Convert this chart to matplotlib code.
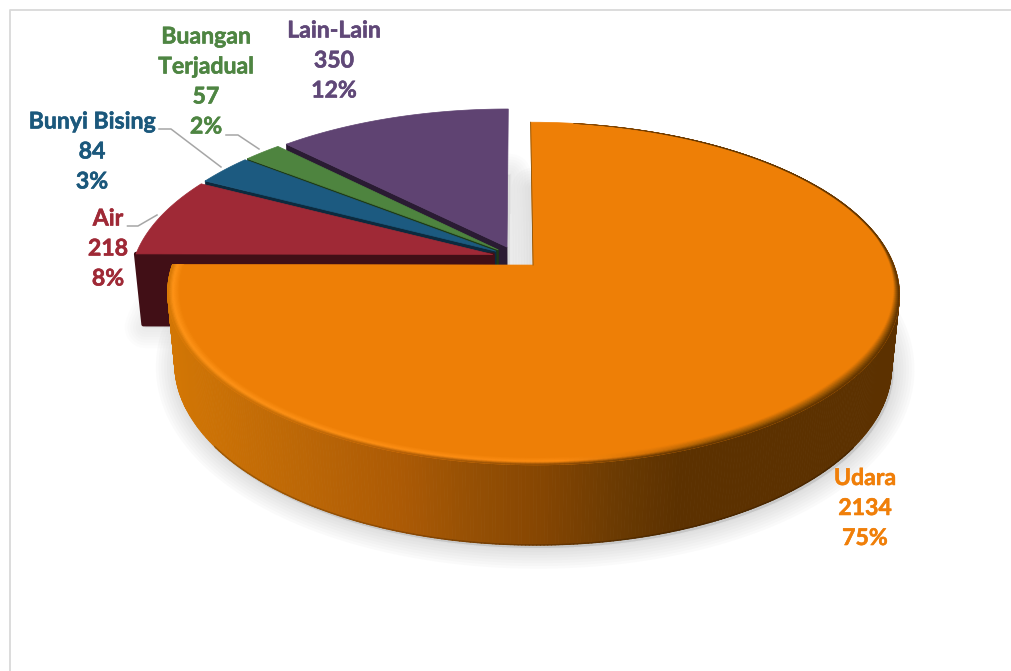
import numpy as np
import matplotlib
matplotlib.use("Agg")
import matplotlib.pyplot as plt
import matplotlib.patheffects as pe
from matplotlib.collections import PolyCollection
from matplotlib.colors import to_rgb
from matplotlib.patches import Polygon

categories = ["Udara", "Air", "Bunyi Bising", "Buangan\nTerjadual", "Lain-Lain"]
values = [2134, 218, 84, 57, 350]
face_colors = ["#EE7F06", "#9F2936", "#1C5A80", "#4E843F", "#5F4372"]
side_colors = ["#5C3100", "#410F16", "#0C2A3E", "#1E3A16", "#2A1B33"]
label_colors = ["#F07F09", "#9F2936", "#1B587C", "#4E8542", "#604878"]
label_pos = [(865, 508.5), (108, 249), (92, 152), (206, 82), (334, 61)]
leaders = [None,
           [(127.5, 226), (138, 226), (157, 215)],
           [(159, 129), (171, 129), (221, 167)],
           [(226, 135), (238, 135), (259, 149)],
           None]

# projection of the flat pie into the picture
XO, YO, AX, AY, KP, HZ, MZ, EXPLODE = 516, 257.2, 358, 164, 0.165, 72, 0.02, 0.067


def project(px, py, z=0.0):
    w = 1 + KP * py + MZ * z
    return XO + AX * px / w, YO + (-AY * py + HZ * z) / w


def point(theta, r, bis, z=0.0):
    t, b = np.radians(theta), np.radians(bis)
    px = EXPLODE * np.sin(b) + r * np.sin(t)
    py = EXPLODE * np.cos(b) + r * np.cos(t)
    return project(px, py, z)


def wedge(t0, t1, bis, z=0.0):
    th = np.linspace(t0, t1, 160)
    x, y = point(th, 1.0, bis, z)
    vx, vy = point(0.0, 0.0, bis, z)
    return np.column_stack([np.r_[vx, x], np.r_[vy, y]])


def ramp(x, xs, cols):
    c = np.array([to_rgb(k) for k in cols])
    return np.column_stack([np.interp(x, xs, c[:, i]) for i in range(3)])


RIM_X = [172, 300, 400, 470, 540, 620, 680]
RIM_C = ["#D27605", "#BC6706", "#AC5A05", "#965004", "#864602", "#6A3A02", "#5C3100"]

fig = plt.figure(figsize=(10.11, 6.71), dpi=100)
ax = fig.add_axes([0, 0, 1, 1])
ax.set_xlim(0, 1011)
ax.set_ylim(671, 0)
ax.axis("off")

ax.plot([9.5, 9.5, 1011], [671, 9.5, 9.5], color="#D9D9D9", lw=1.3, zorder=1)

angles = np.r_[0, np.cumsum(values)] / np.sum(values) * 360
bis = (angles[:-1] + angles[1:]) / 2

# soft shadow under every slice
for i in range(len(values)):
    poly = wedge(angles[i], angles[i + 1], bis[i], 1.0) + np.array([2, 3])
    for lw in np.arange(30, 1, -4):
        ax.add_patch(Polygon(poly, closed=True, facecolor="#8A8A8A", edgecolor="#8A8A8A",
                             lw=lw, alpha=0.035 if i == 0 else 0.018, joinstyle="round", zorder=2))

# small slices, back to front
for i in [4, 3, 2, 1]:
    t0 = angles[i]
    x0, y0 = point(0.0, 0.0, bis[i], 0.0)
    x1, y1 = point(t0, 1.0, bis[i], 0.0)
    x2, y2 = point(t0, 1.0, bis[i], 1.0)
    x3, y3 = point(0.0, 0.0, bis[i], 1.0)
    ax.add_patch(Polygon([(x0, y0), (x1, y1), (x2, y2), (x3, y3)], closed=True,
                         facecolor=side_colors[i], edgecolor=side_colors[i],
                         lw=3 if i == 1 else 0.5, joinstyle="round", zorder=3 + (4 - i)))
    ax.add_patch(Polygon(wedge(angles[i], angles[i + 1], bis[i]), closed=True,
                         facecolor=face_colors[i], edgecolor=face_colors[i], lw=0.5,
                         zorder=3.5 + (4 - i)))

# large slice: rim with a gradient, then the top and a bevel
th = np.linspace(angles[0] + 60, angles[1], 420)
xt, yt = point(th, 1.0, bis[0], 0.0)
xb, yb = point(th, 1.0, bis[0], 1.0)
quads = [[(xt[j], yt[j]), (xt[j + 1], yt[j + 1]), (xb[j + 1], yb[j + 1]), (xb[j], yb[j])]
         for j in range(len(th) - 1)]
rim_x = (xt[:-1] + xt[1:]) / 2
rim = ramp(rim_x, RIM_X, RIM_C)
ax.add_collection(PolyCollection(quads, facecolors=rim, edgecolors=rim, linewidths=0.6, zorder=10))
for j in range(len(th) - 1):
    if 125 < th[j] < 235:
        ax.plot(xb[j:j + 2], yb[j:j + 2], color=tuple(rim[j] * 0.8), lw=1.0, zorder=10.5,
                solid_capstyle="round")

ax.add_patch(Polygon(wedge(angles[0], angles[1], bis[0]), closed=True, facecolor=face_colors[0],
                     edgecolor=face_colors[0], lw=0.5, zorder=11))

th = np.linspace(angles[0] + 8, angles[1], 400)
mid = (th[:-1] + th[1:]) / 2
base = np.array(to_rgb(face_colors[0]))
steps = 10
for s in range(steps):
    f0 = s / steps
    f1 = (s + 1) / steps
    grow = np.clip((mid - 80) / 50, 0, 1)
    width = 0.005 + 0.027 * grow
    x0, y0 = point(th[:-1], 1 - width * (1 - f0), bis[0])
    x1, y1 = point(th[1:], 1 - width * (1 - f0), bis[0])
    x2, y2 = point(th[1:], 1 - width * (1 - f1), bis[0])
    x3, y3 = point(th[:-1], 1 - width * (1 - f1), bis[0])
    mx = (x0 + x1) / 2
    light = ramp(mx, [172, 560, 640, 720, 900],
                 ["#FF9418", "#FD8C12", "#D87406", "#A05C04", "#8A4E03"])
    outer = ramp(mx, RIM_X, RIM_C)
    fm = (f0 + f1) / 2
    if fm < 0.6:
        cols = base + (light - base) * (fm / 0.6)
    else:
        cols = light + (outer - light) * ((fm - 0.6) / 0.4)
    q = [[(x0[j], y0[j]), (x1[j], y1[j]), (x2[j], y2[j]), (x3[j], y3[j])] for j in range(len(mid))]
    ax.add_collection(PolyCollection(q, facecolors=cols, edgecolors=cols, linewidths=0.4, zorder=12))

vx, vy = point(0.0, 0.0, bis[0])
tx, ty = point(angles[0], 1.0, bis[0])
ax.plot([vx, tx], [vy, ty], color="#8A5208", lw=0.6, zorder=12)

# labels
total = sum(values)
for name, val, col, pos, lead in zip(categories, values, label_colors, label_pos, leaders):
    ax.text(pos[0], pos[1], f"{name}\n{val}\n{val / total:.0%}", color=col, family="Lato",
            weight="bold", fontsize=16.6, ha="center", va="center", linespacing=1.53, zorder=20,
            path_effects=[pe.withStroke(linewidth=0.4, foreground=col)])
    if lead:
        ax.plot(*zip(*lead), color="#A6A6A6", lw=1.1, zorder=20)

fig.savefig("out.png", dpi=100)
